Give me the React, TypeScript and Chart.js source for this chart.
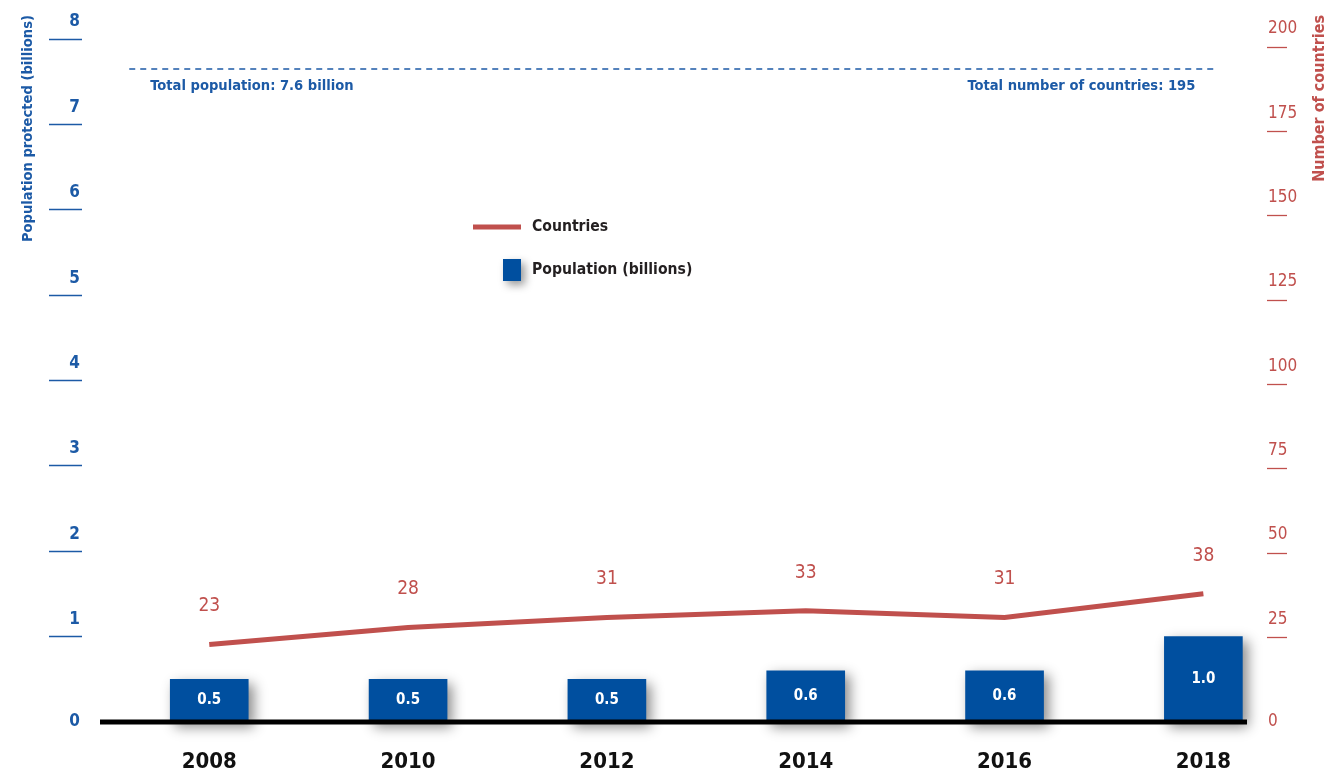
import React, { useEffect, useRef } from 'react';
import { Chart, registerables } from 'chart.js';

Chart.register(...registerables);

const years = [2008, 2010, 2012, 2014, 2016, 2018];
const population = [0.5, 0.5, 0.5, 0.6, 0.6, 1.0];
const countries = [23, 28, 31, 33, 31, 38];
const leftTicks = [0, 1, 2, 3, 4, 5, 6, 7, 8];
const rightTicks = [0, 25, 50, 75, 100, 125, 150, 175, 200];
const totalPopulation = 7.6;
const totalCountries = 195;

const BLUE = '#004f9f';
const BLUE_TEXT = '#1c5aa6';
const RED = '#c0504d';
const DARK = '#231f20';
const FONT = '"Liberation Sans Narrow", "DejaVu Sans Condensed", "Roboto", sans-serif';

const decorPlugin = {
  id: 'decor',
  beforeDatasetDraw(chart: any, args: any) {
    if (args.index === 0) {
      const ctx = chart.ctx;
      ctx.save();
      ctx.shadowColor = 'rgba(0,0,0,0.45)';
      ctx.shadowBlur = 12;
      ctx.shadowOffsetX = 5;
      ctx.shadowOffsetY = 5;
    }
  },
  afterDatasetDraw(chart: any, args: any) {
    if (args.index === 0) chart.ctx.restore();
  },
  afterDatasetsDraw(chart: any) {
    const ctx = chart.ctx;
    const area = chart.chartArea;
    const yL = chart.scales.y;
    const yR = chart.scales.y1;
    const x = chart.scales.x;

    ctx.save();
    // baseline
    ctx.strokeStyle = '#000';
    ctx.lineWidth = 5;
    const y0 = yL.getPixelForValue(0);
    ctx.beginPath();
    ctx.moveTo(area.left + 18, y0);
    ctx.lineTo(area.right - 20, y0);
    ctx.stroke();

    // dashed total line (total population / total countries)
    const yT = Math.round((yL.getPixelForValue(totalPopulation) + yR.getPixelForValue(totalCountries)) / 2);
    ctx.strokeStyle = BLUE_TEXT;
    ctx.lineWidth = 1.6;
    ctx.setLineDash([6, 5]);
    ctx.beginPath();
    ctx.moveTo(x.getPixelForValue(years[0]) - 80, yT);
    ctx.lineTo(x.getPixelForValue(years[years.length - 1]) + 12, yT);
    ctx.stroke();
    ctx.setLineDash([]);

    ctx.fillStyle = BLUE_TEXT;
    ctx.font = `bold 14.6px ${FONT}`;
    ctx.textBaseline = 'middle';
    ctx.textAlign = 'left';
    ctx.fillText(`Total population: ${totalPopulation} billion`, x.getPixelForValue(years[0]) - 59, yT + 17);
    ctx.textAlign = 'right';
    ctx.fillText(`Total number of countries: ${totalCountries}`, x.getPixelForValue(years[years.length - 1]) - 8, yT + 17);

    // bar value labels
    const barMeta = chart.getDatasetMeta(0);
    ctx.fillStyle = '#ffffff';
    ctx.font = `bold 15px ${FONT}`;
    ctx.textAlign = 'center';
    barMeta.data.forEach((el: any, i: number) => {
      ctx.fillText(population[i].toFixed(1), el.x, (el.y + el.base) / 2);
    });

    // line value labels
    const lineMeta = chart.getDatasetMeta(1);
    ctx.fillStyle = RED;
    ctx.font = `19px ${FONT}`;
    lineMeta.data.forEach((el: any, i: number) => {
      ctx.fillText(String(countries[i]), el.x, el.y - 38);
    });

    // legend
    ctx.strokeStyle = RED;
    ctx.lineWidth = 5;
    ctx.beginPath();
    ctx.moveTo(473, 227);
    ctx.lineTo(521, 227);
    ctx.stroke();
    ctx.save();
    ctx.shadowColor = 'rgba(0,0,0,0.4)';
    ctx.shadowBlur = 8;
    ctx.shadowOffsetX = 4;
    ctx.shadowOffsetY = 4;
    ctx.fillStyle = BLUE;
    ctx.fillRect(503, 259, 18, 22);
    ctx.restore();
    ctx.fillStyle = DARK;
    ctx.font = `bold 15.6px ${FONT}`;
    ctx.textAlign = 'left';
    ctx.fillText('Countries', 532, 227);
    ctx.fillText('Population (billions)', 532, 270);

    // axis titles
    ctx.font = `bold 14.6px ${FONT}`;
    ctx.fillStyle = BLUE_TEXT;
    ctx.save();
    ctx.translate(28, 15);
    ctx.rotate(-Math.PI / 2);
    ctx.textAlign = 'right';
    ctx.fillText('Population protected (billions)', 0, 0);
    ctx.restore();
    ctx.font = `bold 16px ${FONT}`;
    ctx.fillStyle = RED;
    ctx.save();
    ctx.translate(1320, 15);
    ctx.rotate(-Math.PI / 2);
    ctx.textAlign = 'right';
    ctx.fillText('Number of countries', 0, 0);
    ctx.restore();

    ctx.restore();
  },
};

export default function App() {
  const ref = useRef<HTMLCanvasElement | null>(null);

  useEffect(() => {
    if (!ref.current) return;
    const chart = new Chart(ref.current, {
      type: 'bar',
      data: {
        datasets: [
          {
            type: 'bar',
            label: 'Population (billions)',
            data: years.map((y, i) => ({ x: y, y: population[i] })),
            backgroundColor: BLUE,
            barThickness: 78,
            yAxisID: 'y',
            clip: false as any,
            order: 2,
          },
          {
            type: 'line',
            label: 'Countries',
            data: years.map((y, i) => ({ x: y, y: countries[i] })),
            borderColor: RED,
            borderWidth: 5,
            pointRadius: 0,
            tension: 0,
            yAxisID: 'y1',
            order: 1,
          } as any,
        ],
      },
      options: {
        animation: false,
        responsive: true,
        maintainAspectRatio: false,
        layout: { padding: { top: 39, left: 0, right: 0, bottom: 0 } },
        plugins: {
          legend: { display: false },
          tooltip: { enabled: false },
        },
        scales: {
          x: {
            type: 'linear',
            offset: false,
            min: 2006.72,
            max: 2018.64,
            afterBuildTicks: (axis: any) => {
              axis.ticks = years.map((v) => ({ value: v }));
            },
            afterFit: (axis: any) => {
              axis.height = 51;
            },
            grid: { display: false, drawTicks: false },
            border: { display: false },
            ticks: {
              color: '#111',
              font: { family: FONT, size: 22, weight: 'bold', lineHeight: 1.2 },
              padding: 27,
              maxRotation: 0,
              autoSkip: false,
              callback: (v: any) => String(v),
            },
          },
          y: {
            type: 'linear',
            position: 'left',
            min: 0,
            max: 8,
            afterBuildTicks: (axis: any) => {
              axis.ticks = leftTicks.map((v) => ({ value: v }));
            },
            afterFit: (axis: any) => {
              axis.width = 82;
            },
            border: { display: false },
            grid: {
              drawOnChartArea: false,
              drawTicks: true,
              tickLength: 33,
              tickWidth: 1.5,
              tickColor: (c: any) => (c.tick && c.tick.value === 0 ? 'rgba(0,0,0,0)' : BLUE_TEXT),
              color: 'rgba(0,0,0,0)',
            },
            ticks: {
              color: BLUE_TEXT,
              font: { family: FONT, size: 17, weight: 'bold', lineHeight: 2.0 },
              padding: -31,
              callback: (v: any) => (v === 0 ? '0' : [String(v), '']),
            },
          },
          y1: {
            type: 'linear',
            position: 'right',
            min: 0,
            max: 202.4,
            afterBuildTicks: (axis: any) => {
              axis.ticks = rightTicks.map((v) => ({ value: v }));
            },
            afterFit: (axis: any) => {
              axis.width = 62;
            },
            border: { display: false },
            grid: {
              drawOnChartArea: false,
              drawTicks: true,
              tickLength: 20,
              tickWidth: 1.3,
              tickColor: (c: any) => (c.tick && c.tick.value === 0 ? 'rgba(0,0,0,0)' : RED),
              color: 'rgba(0,0,0,0)',
            },
            ticks: {
              color: RED,
              crossAlign: 'near',
              font: { family: FONT, size: 17, lineHeight: 2.15 },
              padding: -19,
              callback: (v: any) => (v === 0 ? '0' : [String(v), '']),
            },
          },
        },
      },
      plugins: [decorPlugin],
    } as any);
    return () => chart.destroy();
  }, []);

  return (
    <div style={{ position: 'fixed', left: 0, top: 0, width: 1329, height: 773, background: '#fff' }}>
      <canvas ref={ref} />
    </div>
  );
}
